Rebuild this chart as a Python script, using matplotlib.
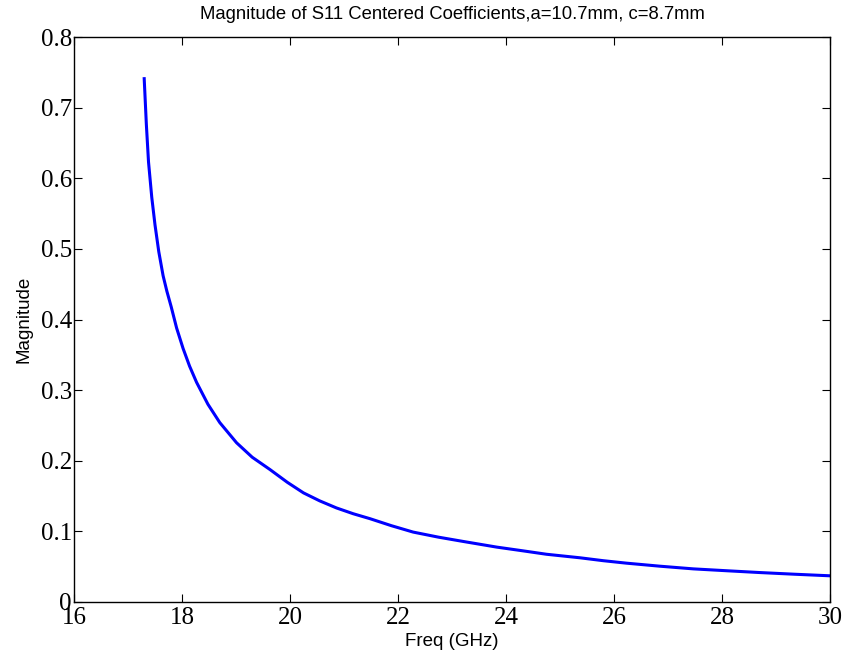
import matplotlib
matplotlib.use("Agg")
import matplotlib.pyplot as plt

# Data
freq_ghz = [17.30, 17.34, 17.38, 17.44, 17.50, 17.57, 17.65, 17.72, 17.80, 17.90,
            18.02, 18.14, 18.27, 18.48, 18.70, 19.01, 19.30, 19.63, 19.95, 20.25,
            20.55, 20.86, 21.17, 21.48, 21.88, 22.28, 22.75, 23.21, 23.83, 24.30,
            24.75, 25.37, 25.80, 26.23, 26.85, 27.47, 28.10, 28.70, 29.35, 30.00]
magnitude = [0.741, 0.676, 0.623, 0.573, 0.534, 0.496, 0.462, 0.440, 0.418, 0.388,
             0.359, 0.334, 0.311, 0.280, 0.254, 0.2255, 0.205, 0.1875, 0.1695, 0.1545,
             0.1432, 0.1332, 0.1250, 0.1180, 0.1080, 0.0990, 0.0918, 0.0857, 0.0777, 0.0726,
             0.0676, 0.0626, 0.0585, 0.0550, 0.0507, 0.0469, 0.0442, 0.0417, 0.0393, 0.0371]

x_ticks = [16, 18, 20, 22, 24, 26, 28, 30]
y_ticks = [0, 0.1, 0.2, 0.3, 0.4, 0.5, 0.6, 0.7, 0.8]
y_tick_labels = ["0", "0.1", "0.2", "0.3", "0.4", "0.5", "0.6", "0.7", "0.8"]

title_text = "Magnitude of S11 Centered Coefficients,a=10.7mm, c=8.7mm"
x_label = "Freq (GHz)"
y_label = "Magnitude"

fig = plt.figure(figsize=(8.47, 6.59), dpi=100)
ax = fig.add_axes([74 / 847, (659 - 602) / 659, (830 - 74) / 847, (602 - 37) / 659])

ax.plot(freq_ghz, magnitude, color="#0000ff", linewidth=2.2)

ax.set_xlim(16, 30)
ax.set_ylim(0, 0.8)
ax.set_xticks(x_ticks)
ax.set_xticklabels([str(t) for t in x_ticks])
ax.set_yticks(y_ticks)
ax.set_yticklabels(y_tick_labels)

for lab in ax.get_xticklabels() + ax.get_yticklabels():
    lab.set_fontfamily("Liberation Serif")
    lab.set_fontsize(18)

ax.tick_params(direction="in", length=5.5, width=0.8, top=True, right=True,
               colors="black")
ax.tick_params(axis="x", pad=3.5)
ax.tick_params(axis="y", pad=1.5)
for s in ax.spines.values():
    s.set_linewidth(1.0)
    s.set_color("black")

ax.set_title(title_text, fontfamily="Liberation Sans", fontsize=13.3, pad=13)
ax.set_xlabel(x_label, fontfamily="Liberation Sans", fontsize=13.5, labelpad=3)
ax.set_ylabel(y_label, fontfamily="Liberation Sans", fontsize=13.5, labelpad=6)

fig.savefig("out.png", dpi=100)
